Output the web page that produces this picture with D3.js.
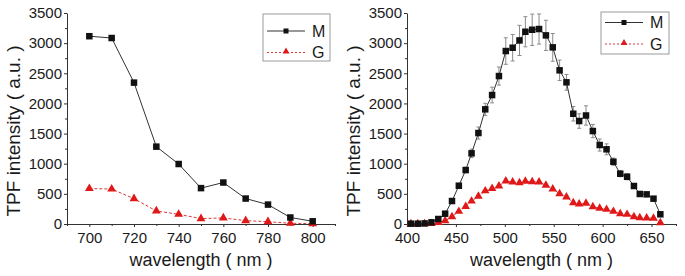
<!DOCTYPE html>
<html><head><meta charset="utf-8">
<script src="https://cdn.jsdelivr.net/npm/d3@7"></script>
<style>
body{margin:0;background:#fff}
svg{display:block}
text{font-family:"Liberation Sans",Arial,sans-serif;fill:#1a1a1a}
</style>
</head><body>
<svg id="c" width="685" height="276"></svg>
<script>
// ---------- data ----------
const yTickValues = [0, 500, 1000, 1500, 2000, 2500, 3000, 3500];
const seriesNames = ["M", "G"];

// left panel: excitation wavelength
const leftWavelength = [700, 710, 720, 730, 740, 750, 760, 770, 780, 790, 800];
const leftM = [3115, 3085, 2345, 1283, 995, 595, 688, 422, 322, 108, 45];
const leftG = [588, 580, 420, 216, 161, 90, 100, 56, 38, 12, 5];
const leftXTicks = [700, 720, 740, 760, 780, 800];
const leftXMinor = [690, 710, 730, 750, 770, 790, 810];

// right panel: emission spectrum
const rightWavelength = [404, 411, 418, 425, 432, 439, 446, 453, 460, 466, 473, 480, 487, 494, 501, 508, 515, 521, 528, 535, 542, 549, 556, 563, 570, 576, 583, 590, 597, 604, 611, 618, 625, 632, 638, 645, 652, 659];
const rightM = [5, 5, 10, 28, 83, 171, 381, 635, 895, 1172, 1509, 1902, 2139, 2454, 2869, 2924, 3045, 3189, 3222, 3234, 3129, 2930, 2549, 2350, 1829, 1708, 1800, 1542, 1310, 1239, 1033, 834, 784, 630, 498, 492, 420, 161];
const rightMErr = [0, 0, 0, 10, 20, 25, 30, 35, 45, 70, 100, 100, 130, 150, 220, 220, 250, 250, 260, 250, 250, 230, 170, 130, 120, 120, 160, 110, 100, 90, 60, 50, 50, 40, 30, 30, 30, 30];
const rightG = [5, 5, 5, 10, 25, 55, 120, 210, 290, 380, 460, 550, 590, 630, 713, 697, 685, 708, 701, 697, 642, 580, 503, 448, 353, 332, 345, 287, 260, 243, 210, 170, 160, 121, 105, 100, 94, 22];
const rightXTicks = [400, 450, 500, 550, 600, 650];
const rightXMinor = [425, 475, 525, 575, 625, 675];

const xTitle = "wavelength ( nm )";
const yTitle = "TPF intensity ( a.u. )";

// ---------- drawing ----------
const svg = d3.select("#c");
const BLACK = "#111", RED = "#e01818", REDLINE = "#d83a3a", GREY = "#8a8a8a";

function panel(o) {
  const x = d3.scaleLinear().domain(o.xDomain).range(o.xRange);
  const y = d3.scaleLinear().domain([0, 3500]).range([224, 13]);
  const g = svg.append("g");

  // axes
  const xa = g.append("g").attr("transform", "translate(0,224)")
    .call(d3.axisBottom(x).tickValues(o.xTicks).tickFormat(d3.format("d")).tickSize(3).tickPadding(5.4).tickSizeOuter(0));
  g.append("g").attr("transform", "translate(0,224)")
    .call(d3.axisBottom(x).tickValues(o.xMinor).tickFormat("").tickSize(2).tickSizeOuter(0))
    .call(s => s.select(".domain").remove());
  const ya = g.append("g").attr("transform", `translate(${o.xRange[0]},0)`)
    .call(d3.axisLeft(y).tickValues(yTickValues).tickFormat(d3.format("d")).tickSize(3).tickPadding(2).tickSizeOuter(0));
  g.append("g").attr("transform", `translate(${o.xRange[0]},0)`)
    .call(d3.axisLeft(y).tickValues(d3.range(250, 3500, 500)).tickFormat("").tickSize(2).tickSizeOuter(0))
    .call(s => s.select(".domain").remove());
  g.selectAll(".domain").attr("stroke", "#333").attr("stroke-width", 1);
  g.selectAll(".tick line").attr("stroke", "#333");
  g.selectAll(".tick text").attr("font-size", 15).attr("font-family", '"Liberation Sans",Arial,sans-serif').attr("fill", "#1a1a1a");

  // titles
  g.append("text").attr("x", (o.xRange[0] + o.xRange[1]) / 2).attr("y", 266)
    .attr("text-anchor", "middle").attr("font-size", 18).text(xTitle);
  g.append("text").attr("transform", `translate(${o.yTitleX},131) rotate(-90)`)
    .attr("text-anchor", "middle").attr("font-size", 19).text(yTitle);

  // error bars
  if (o.mErr) {
    const eb = g.append("g").attr("stroke", GREY).attr("stroke-width", 1);
    o.wl.forEach((w, i) => {
      const e = o.mErr[i];
      if (!e) return;
      const cx = x(w), y1 = y(o.m[i] - e), y2 = y(o.m[i] + e);
      eb.append("line").attr("x1", cx).attr("x2", cx).attr("y1", y1).attr("y2", y2);
      eb.append("line").attr("x1", cx - 2).attr("x2", cx + 2).attr("y1", y1).attr("y2", y1);
      eb.append("line").attr("x1", cx - 2).attr("x2", cx + 2).attr("y1", y2).attr("y2", y2);
    });
  }

  const line = d3.line().x(d => x(d[0])).y(d => y(d[1]));
  const gData = o.wl.map((w, i) => [w, o.gv[i]]);
  const mData = o.wl.map((w, i) => [w, o.m[i]]);

  g.append("path").datum(gData).attr("d", line).attr("fill", "none")
    .attr("stroke", REDLINE).attr("stroke-width", 1).attr("stroke-dasharray", "3,2");
  g.append("path").datum(mData).attr("d", line).attr("fill", "none")
    .attr("stroke", "#333").attr("stroke-width", 1);

  const tri = d3.symbol().type(d3.symbolTriangle).size(o.triSize);
  g.selectAll(".tri").data(gData).enter().append("path")
    .attr("d", tri).attr("transform", d => `translate(${x(d[0])},${y(d[1])})`).attr("fill", RED);
  const s = o.sqSize;
  g.selectAll(".sq").data(mData).enter().append("rect")
    .attr("x", d => x(d[0]) - s / 2).attr("y", d => y(d[1]) - s / 2)
    .attr("width", s).attr("height", s).attr("fill", BLACK);

  // legend
  const L = o.legend;
  const lg = g.append("g");
  lg.append("rect").attr("x", L.x).attr("y", L.y).attr("width", L.w).attr("height", L.h)
    .attr("fill", "#fff").attr("stroke", "#9a9a9a").attr("stroke-width", 1);
  const rows = [L.y + L.r1, L.y + L.r2];
  const lx1 = L.x + 4, lx2 = L.x + 42, lm = (lx1 + lx2) / 2;
  lg.append("line").attr("x1", lx1).attr("x2", lx2).attr("y1", rows[0]).attr("y2", rows[0])
    .attr("stroke", "#333").attr("stroke-width", 1);
  lg.append("rect").attr("x", lm - 2.5).attr("y", rows[0] - 2.5).attr("width", 5).attr("height", 5).attr("fill", BLACK);
  lg.append("line").attr("x1", lx1).attr("x2", lx2).attr("y1", rows[1]).attr("y2", rows[1])
    .attr("stroke", REDLINE).attr("stroke-width", 1).attr("stroke-dasharray", "2,2");
  lg.append("path").attr("d", d3.symbol().type(d3.symbolTriangle).size(20)())
    .attr("transform", `translate(${lm},${rows[1] - 1})`).attr("fill", RED);
  seriesNames.forEach((n, i) => {
    lg.append("text").attr("x", L.x + 49).attr("y", rows[i]).attr("dy", "0.36em")
      .attr("font-size", 16).text(n);
  });
}

panel({
  xDomain: [690, 810], xRange: [67, 335],
  xTicks: leftXTicks, xMinor: leftXMinor,
  wl: leftWavelength, m: leftM, gv: leftG,
  yTitleX: 20, sqSize: 6.5, triSize: 34,
  legend: {x: 263, y: 14, w: 67, h: 47, r1: 17, r2: 38.5}
});
panel({
  xDomain: [400, 675], xRange: [407, 676],
  xTicks: rightXTicks, xMinor: rightXMinor,
  wl: rightWavelength, m: rightM, gv: rightG, mErr: rightMErr,
  yTitleX: 360, sqSize: 6.5, triSize: 32,
  legend: {x: 601, y: 12, w: 68, h: 42, r1: 10.5, r2: 32}
});
</script>
</body></html>
